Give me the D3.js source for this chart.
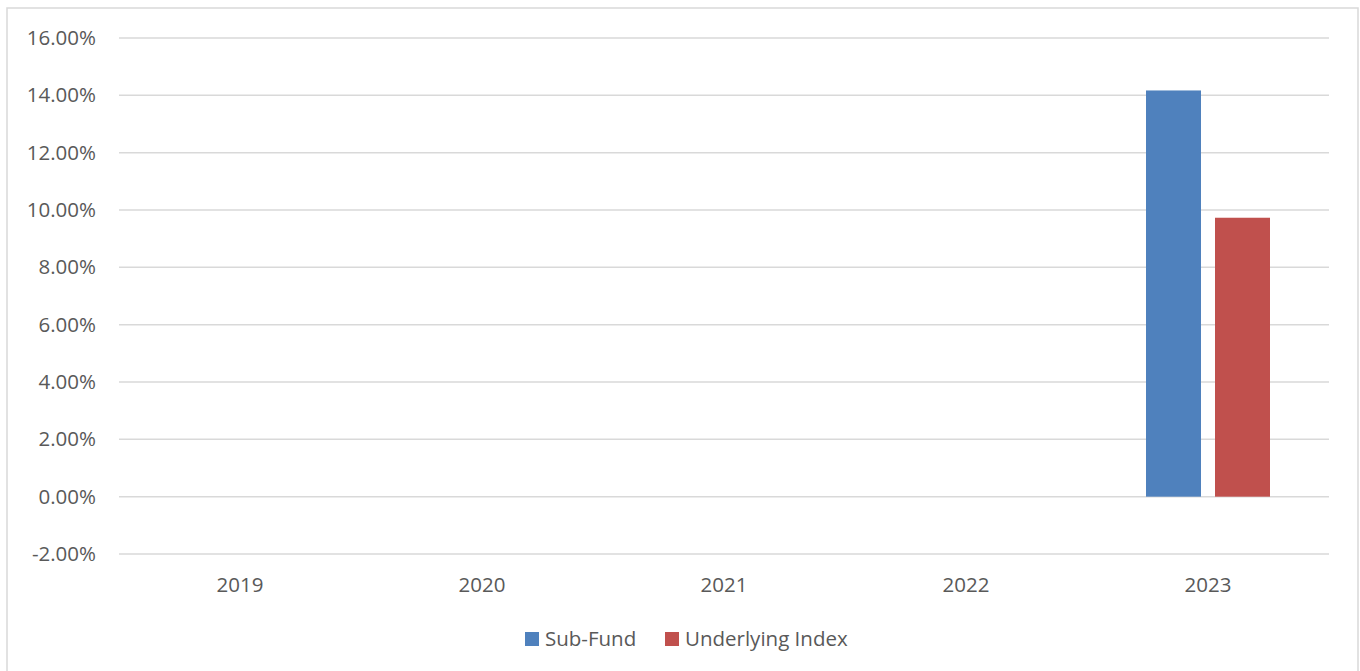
<!DOCTYPE html>
<html><head><meta charset="utf-8">
<script src="https://cdn.jsdelivr.net/npm/d3@7"></script>
<style>html,body{margin:0;padding:0;background:#fff;} svg{display:block;}</style>
</head><body>
<script>
const categories = ["2019","2020","2021","2022","2023"];
const seriesNames = ["Sub-Fund","Underlying Index"];
const subFund = [null,null,null,null,14.17];
const underlyingIndex = [null,null,null,null,9.73];
const yTicks = [-2,0,2,4,6,8,10,12,14,16];
const colors = ["#4f81bd","#c0504d"];

const W=1360,H=671;
const svg=d3.select("body").append("svg").attr("width",W).attr("height",H);
svg.append("rect").attr("x",7).attr("y",8).attr("width",1351).attr("height",670)
  .attr("fill","#fff").attr("stroke","#d9d9d9").attr("stroke-width",1.5);

const x=d3.scaleBand().domain(categories).range([119,1329]);
const y=d3.scaleLinear().domain([-2,16]).range([554,38]);
const font="'Open Sans', 'Liberation Sans', sans-serif";
const fs=20.5;

const g=svg.append("g");
g.selectAll("line.grid").data(yTicks).join("line").attr("class","grid")
  .attr("x1",119).attr("x2",1329).attr("y1",d=>y(d)).attr("y2",d=>y(d))
  .attr("stroke","#d9d9d9").attr("stroke-width",1.5);

const yAxis=d3.axisLeft(y).tickValues(yTicks).tickSize(0).tickPadding(0)
  .tickFormat(d=>d.toFixed(2)+"%");
const ya=svg.append("g").attr("transform","translate(96,0)").call(yAxis);
ya.select(".domain").remove();
ya.selectAll("text").attr("font-family",font).attr("font-size",fs).attr("fill","#595959");

const xAxis=d3.axisBottom(x).tickSize(0).tickPadding(0);
const xa=svg.append("g").attr("transform","translate(0,592)").call(xAxis);
xa.select(".domain").remove();
xa.selectAll("text").attr("font-family",font).attr("font-size",fs).attr("fill","#595959").attr("dy","0");

const data=[subFund,underlyingIndex];
const bw=55, gap=14;
data.forEach((arr,si)=>{
  svg.append("g").selectAll("rect").data(categories.map((c,i)=>({c,v:arr[i]})).filter(d=>d.v!=null))
    .join("rect")
    .attr("x",d=>x(d.c)+x.bandwidth()/2 - (bw*2+gap)/2 + si*(bw+gap))
    .attr("width",bw)
    .attr("y",d=>y(Math.max(0,d.v)))
    .attr("height",d=>Math.abs(y(d.v)-y(0)))
    .attr("fill",colors[si]);
});

const leg=svg.append("g");
const legX=[525,665];
seriesNames.forEach((n,i)=>{
  leg.append("rect").attr("x",legX[i]).attr("y",632).attr("width",14).attr("height",14).attr("fill",colors[i]);
  leg.append("text").attr("x",legX[i]+20).attr("y",646).text(n)
    .attr("font-family",font).attr("font-size",fs).attr("fill","#595959");
});
</script>
</body></html>
